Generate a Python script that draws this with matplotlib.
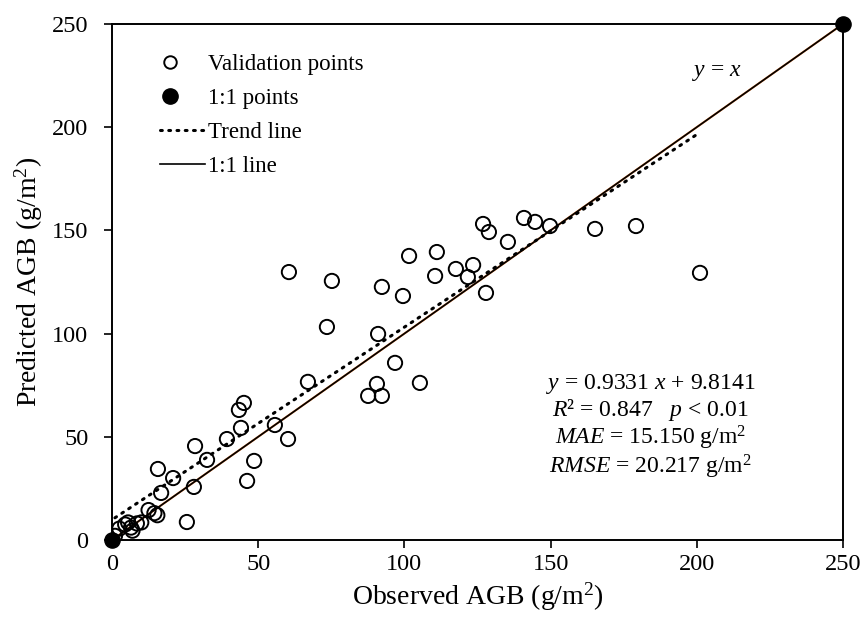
import numpy as np
import matplotlib.pyplot as plt
from matplotlib.lines import Line2D
from matplotlib.legend_handler import HandlerLine2D

plt.rcParams['font.family'] = ['Liberation Serif', 'DejaVu Serif']
plt.rcParams['mathtext.fontset'] = 'custom'
plt.rcParams['mathtext.rm'] = 'Liberation Serif'
plt.rcParams['mathtext.it'] = 'Liberation Serif:italic'

# validation points (observed, predicted)
observed = [1.0, 2.5, 4.5, 5.5, 6.5, 7.0, 8.5, 10.0, 12.5, 14.5, 15.5,
            15.7, 16.8, 20.9, 25.6, 28.0, 28.4, 32.5, 39.3, 43.4, 44.1,
            45.1, 46.2, 48.6, 55.7, 60.2, 60.5, 67.0, 73.5, 75.2, 87.6,
            90.6, 91.0, 92.3, 92.3, 96.8, 99.5, 101.6, 105.3, 110.5, 111.1,
            117.6, 121.7, 123.5, 126.9, 127.9, 128.9, 135.4, 140.9, 144.7,
            149.8, 165.2, 179.2, 201.1]
predicted = [2.0, 5.5, 7.5, 8.5, 6.0, 4.5, 8.0, 8.5, 14.5, 13.0, 12.0,
             34.4, 22.8, 30.0, 8.7, 25.7, 45.5, 38.8, 48.9, 63.0, 54.3,
             66.4, 28.6, 38.3, 55.7, 48.9, 129.8, 76.6, 103.2, 125.5, 69.8,
             75.6, 99.8, 69.8, 122.6, 85.8, 118.2, 137.6, 76.1, 127.9, 139.5,
             131.3, 127.4, 133.2, 153.1, 119.7, 149.2, 144.4, 156.0, 154.1,
             152.1, 150.7, 152.1, 129.4]

one_to_one = [0, 250]
slope, intercept = 0.9331, 9.8141


class LeftMarker(HandlerLine2D):
    # puts the legend marker a bit left of the handle centre
    def create_artists(self, legend, orig_handle, xdescent, ydescent,
                       width, height, fontsize, trans):
        arts = super().create_artists(legend, orig_handle, xdescent, ydescent,
                                      width, height, fontsize, trans)
        for a in arts:
            a.set_xdata(np.asarray(a.get_xdata()) - 0.28 * width)
        return arts


fig = plt.figure(figsize=(8.63, 6.32), dpi=100)
ax = fig.add_axes([0.1298, 0.1456, 0.847, 0.8165])

# 1:1 line (orange under black, like the original)
ax.plot(one_to_one, one_to_one, color='#ED7D31', lw=1.5, zorder=2, clip_on=False)
ax.plot(one_to_one, one_to_one, color='black', lw=1.2, zorder=3, clip_on=False)

# trend line
xt = np.array([min(observed), max(observed)])
ax.plot(xt, slope * xt + intercept, color='black', lw=2.2,
        linestyle=(0, (0.6, 2.1)), dash_capstyle='round', zorder=4)

ax.scatter(observed, predicted, s=105, facecolors='none', edgecolors='black',
           linewidths=1.4, zorder=5)
ax.scatter(one_to_one, one_to_one, s=120, color='black', zorder=6, clip_on=False)

ax.set_xlim(0, 250)
ax.set_ylim(0, 250)
ax.set_xticks([0, 50, 100, 150, 200, 250])
ax.set_yticks([0, 50, 100, 150, 200, 250])
ax.tick_params(direction='out', length=6, width=1.2, labelsize=17.5)
ax.tick_params(axis='y', pad=11)
ax.tick_params(axis='x', pad=4)
for sp in ax.spines.values():
    sp.set_linewidth(1.4)

ax.set_xlabel('Observed AGB (g/m$^2$)', fontsize=20, labelpad=4)
ax.set_ylabel('Predicted AGB (g/m$^2$)', fontsize=20, labelpad=5)

h_val = Line2D([], [], marker='o', ls='none', mfc='none', mec='black', mew=1.4, ms=9)
h_one = Line2D([], [], marker='o', ls='none', color='black', ms=11)
h_trend = Line2D([], [], color='black', lw=2.2, linestyle=(0, (0.6, 2.1)),
                 dash_capstyle='round')
h_line = Line2D([], [], color='black', lw=1.2)
labels = ['Validation points', '1:1 points', 'Trend line', '1:1 line']
ax.legend([h_val, h_one, h_trend, h_line], labels, loc='upper left',
          bbox_to_anchor=(0.065, 0.942), frameon=False, fontsize=16.5,
          handlelength=2.0, handletextpad=0.1, labelspacing=0.57,
          borderpad=0, borderaxespad=0,
          handler_map={h_val: LeftMarker(), h_one: LeftMarker()})

ax.text(0.828, 0.905, '$y$ = $x$', transform=ax.transAxes, fontsize=17,
        ha='center', va='center')

stats = ('$y$ = 0.9331 $x$ + 9.8141\n'
         '$R$² = 0.847   $p$ < 0.01\n'
         '$MAE$ = 15.150 g/m$^2$\n'
         '$RMSE$ = 20.217 g/m$^2$')
ax.text(0.737, 0.22, stats, transform=ax.transAxes, fontsize=17,
        ha='center', va='center', multialignment='center', linespacing=1.05)

plt.savefig('out.png', dpi=100)
